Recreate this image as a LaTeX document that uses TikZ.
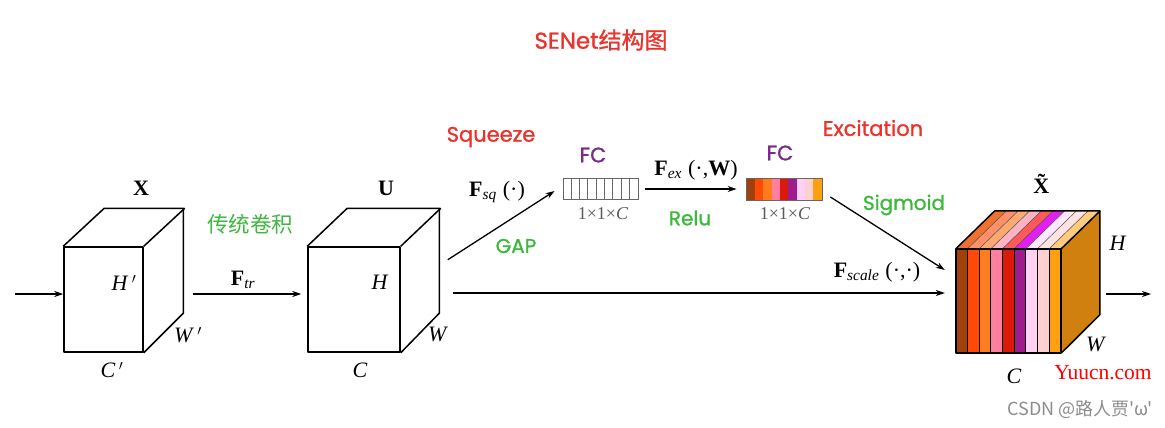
\documentclass[tikz,border=0pt]{standalone}
\usepackage{fontspec}
\setmainfont{Liberation Serif}
\newfontfamily\lab[FakeBold=1.2]{Poppins}
\newfontfamily\cjk{Noto Sans CJK SC}
\newfontfamily\cjkb[FakeBold=1]{Noto Sans CJK SC}
\usetikzlibrary{arrows.meta,calc}
\definecolor{tred}{HTML}{E8342C}
\definecolor{tgreen}{HTML}{3DB83D}
\definecolor{tpurple}{HTML}{7B2A8C}
\definecolor{cA}{HTML}{A0400C}
\definecolor{cB}{HTML}{FF4A0A}
\definecolor{cC}{HTML}{FF7D1E}
\definecolor{cD}{HTML}{FF7F9E}
\definecolor{cE}{HTML}{DC1A0C}
\definecolor{cF}{HTML}{9E1C8C}
\definecolor{cG}{HTML}{FFD2F4}
\definecolor{cH}{HTML}{FFD0D0}
\definecolor{cI}{HTML}{FFA012}
\definecolor{tA}{HTML}{F07030}
\definecolor{tB}{HTML}{FF906A}
\definecolor{tC}{HTML}{FFA870}
\definecolor{tD}{HTML}{FFB4C4}
\definecolor{tE}{HTML}{FF5A5A}
\definecolor{tF}{HTML}{E020F0}
\definecolor{tG}{HTML}{FFE8FF}
\definecolor{tH}{HTML}{FFE2E2}
\definecolor{tI}{HTML}{FFCC80}
\definecolor{sideC}{HTML}{D0800F}
\newcommand\prm{$\,'$}
\tikzset{
  face/.style={draw, line width=1.5pt, line join=round, inner sep=0pt},
  edge/.style={line width=1.5pt, line join=round},
  conn/.style={line width=1.3pt, -{Stealth[length=9pt,width=6pt]}},
  mlab/.style={font=\fontsize{22}{24}\selectfont, inner sep=0pt},
  flab/.style={font=\fontsize{22}{24}\selectfont, inner sep=0pt},
  slab/.style={font=\fontsize{18}{20}\selectfont, inner sep=0pt, text=black!65},
  red lab/.style={font=\lab\fontsize{21}{24}\selectfont, text=tred, inner sep=0pt},
  green lab/.style={font=\lab\fontsize{20}{23}\selectfont, text=tgreen, inner sep=0pt},
  fc lab/.style={font=\lab\fontsize{21}{24}\selectfont, text=tpurple, inner sep=0pt},
  cell/.style={draw=black!60, line width=0.6pt}
}
\begin{document}
\begin{tikzpicture}[x=1pt,y=-1pt]
\useasboundingbox (0,0) rectangle (1165,428);
% title
\node[font=\lab\fontsize{23}{26}\selectfont, text=tred, inner sep=0pt] (title) at (601,40) {SENet\cjkb 结构图};

% ---------- cube X ----------
\node[face, minimum width=79pt, minimum height=105pt] (X) at (103.5,299.5) {};
\draw[edge] (X.north west) -- ++(41,-38) -- ++(79,0) -- ++(0,105) -- (X.south east);
\draw[edge] (X.north east) -- ++(41,-38);
\node[mlab] (Xl) at (141,188) {\textbf{X}};
\node[mlab] (Hp) at (124,283) {\textit{H}\prm};
\node[mlab] (Wp) at (188,335) {\textit{W}\prm};
\node[mlab] (Cp) at (112,370) {\textit{C}\prm};

% ---------- cube U ----------
\node[face, minimum width=92pt, minimum height=105pt] (U) at (354,299.5) {};
\draw[edge] (U.north west) -- ++(40,-38) -- ++(92,0) -- ++(0,105) -- (U.south east);
\draw[edge] (U.north east) -- ++(40,-38);
\node[mlab] (Ul) at (386,188) {\textbf{U}};
\node[mlab] (Hu) at (380,282) {\textit{H}};
\node[mlab] (Wu) at (438,334) {\textit{W}};
\node[mlab] (Cu) at (360,370) {\textit{C}};

% ---------- FC bars ----------
\node[draw=black!60, line width=0.8pt, minimum width=75pt, minimum height=21pt, inner sep=0pt] (fc1) at (600.5,189) {};
\foreach \i in {1,...,8} \draw[cell] ($(fc1.north west)+(\i*75/9,0)$) -- ($(fc1.south west)+(\i*75/9,0)$);
\node[draw=black!60, line width=0.8pt, minimum width=75pt, minimum height=21pt, inner sep=0pt] (fc2) at (784.5,189) {};
\foreach \c [count=\i from 0] in {cA,cB,cC,cD,cE,cF,cG,cH,cI}
  \fill[\c] ($(fc2.north west)+(\i*75/9,0)$) rectangle ($(fc2.south west)+(\i*75/9+75/9,0)$);
\draw[black!60, line width=0.8pt] (fc2.north west) rectangle (fc2.south east);
\node[fc lab] (fcl1) at (593,155) {FC};
\node[fc lab] (fcl2) at (780,153) {FC};
\node[slab] (d1) at (603,214) {1×1×\textit{C}};
\node[slab] (d2) at (785,214) {1×1×\textit{C}};

% ---------- cube X tilde ----------
\node[minimum width=105pt, minimum height=104pt, inner sep=0pt] (Xt) at (1008.5,301) {};
\fill[sideC] (Xt.north east) -- ++(39,-38) -- ++(0,104) -- (Xt.south east) -- cycle;
\foreach \c [count=\i from 0] in {cA,cB,cC,cD,cE,cF,cG,cH,cI}
  \fill[\c] ($(Xt.north west)+(\i*105/9,0)$) rectangle ($(Xt.south west)+(\i*105/9+105/9,0)$);
\foreach \c [count=\i from 0] in {tA,tB,tC,tD,tE,tF,tG,tH,tI}
  \fill[\c] ($(Xt.north west)+(\i*105/9,0)$) -- ++(105/9,0) -- ++(39,-38) -- ++(-105/9,0) -- cycle;
\foreach \i in {1,...,8} {
  \draw[line width=0.7pt] ($(Xt.north west)+(\i*105/9,0)$) -- ($(Xt.south west)+(\i*105/9,0)$);
  \draw[line width=0.5pt, black!70] ($(Xt.north west)+(\i*105/9,0)$) -- ++(39,-38);
}
\draw[edge] (Xt.north west) rectangle (Xt.south east);
\draw[edge] (Xt.north west) -- ++(39,-38) -- ++(105,0) -- ++(0,104) -- (Xt.south east);
\draw[edge] (Xt.north east) -- ++(39,-38);
\node[mlab] (Xtl) at (1045,184) {\textbf{\~{X}}};
\node[mlab] (Ht) at (1118,243) {\textit{H}};
\node[mlab] (Wt) at (1096,344) {\textit{W}};
\node[mlab] (Ct) at (1014,376) {\textit{C}};

% ---------- connectors ----------
\coordinate (in) at (15,294);
\coordinate (out) at (1151,294);
\draw[conn] (in) -- (X.west |- in);
\draw[conn] ([xshift=49pt,yshift=5.5pt]X.east) -- ([xshift=-6pt,yshift=5.5pt]U.west);
\draw[conn] ([xshift=47pt,yshift=93pt]U.south east) -- ([xshift=-8pt,yshift=-2pt]fc1.west);
\draw[conn] ([xshift=52pt,yshift=6.5pt]U.east) -- ([xshift=-11pt,yshift=8pt]Xt.west);
\draw[conn] ([xshift=7pt]fc1.east) -- ([xshift=-10pt]fc2.west);
\draw[conn] ([xshift=8pt,yshift=-8pt]fc2.east) -- ([xshift=-11pt,yshift=31pt]Xt.west);
\draw[conn] ([xshift=45pt,yshift=7pt]Xt.east) -- (out);

% ---------- labels ----------
\node[font=\cjk\fontsize{21.5}{24}\selectfont, text=tgreen, inner sep=0pt] (conv) at (250,224) {传统卷积};
\node[flab] (ftr) at (243,280) {\textbf{F}\textsubscript{\itshape tr}};
\node[red lab] (sq) at (491,137) {Squeeze};
\node[flab] (fsq) at (497,192) {\textbf{F}\textsubscript{\itshape sq}\;(·)};
\node[green lab] (gap) at (516,246) {GAP};
\node[flab] (fex) at (696,170) {\textbf{F}\textsubscript{\itshape ex}\;(·,\textbf{W})};
\node[green lab] (relu) at (690,218) {Relu};
\node[red lab] (exc) at (873,128) {Excitation};
\node[green lab] (sig) at (904,205) {Sigmoid};
\node[flab] (fsc) at (877,272) {\textbf{F}\textsubscript{\itshape scale}\;(·,·)};

% ---------- watermark ----------
\node[font=\fontsize{21.5}{24}\selectfont, text=red, inner sep=0pt] (wm1) at (1103,373) {Yuucn.com};
\node[font=\cjk\fontsize{18}{20}\selectfont, text=black!45, inner sep=0pt] (wm2) at (1080,409) {CSDN @路人贾'ω'};
\end{tikzpicture}
\end{document}
